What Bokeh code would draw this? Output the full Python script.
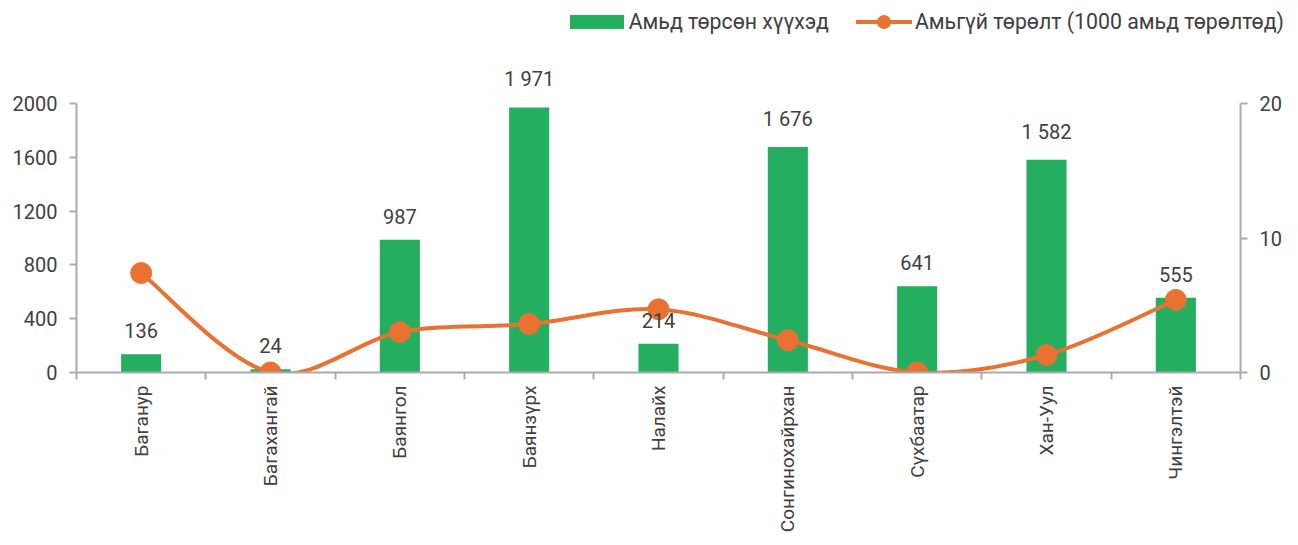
import math
from bokeh.plotting import figure
from bokeh.layouts import column
from bokeh.models import (Range1d, LinearAxis, FixedTicker, ColumnDataSource,
                          LabelSet, Div)
from bokeh.core.properties import value
from bokeh.embed import file_html
from bokeh.resources import INLINE

categories = ["Баганур", "Багахангай", "Баянгол", "Баянзүрх", "Налайх",
              "Сонгинохайрхан", "Сүхбаатар", "Хан-Уул", "Чингэлтэй"]
births = [136, 24, 987, 1971, 214, 1676, 641, 1582, 555]
stillbirth = [7.4, 0.0, 3.0, 3.6, 4.7, 2.4, 0.0, 1.3, 5.4]
left_ticks = [0, 400, 800, 1200, 1600, 2000]
right_ticks = [0, 10, 20]
series_names = ["Амьд төрсөн хүүхэд", "Амьгүй төрөлт (1000 амьд төрөлтөд)"]

GREEN = "#24AE5F"
ORANGE = "#E97132"
TEXT = "#404040"
AXIS = "#ABABAB"
FONT = "Roboto"
FS = "20px"

n = len(categories)
xs = list(range(n))

# ---------------- legend (HTML strip above the chart) ----------------
bar_swatch = (f'<span style="display:inline-block;width:54px;height:14px;'
              f'background:{GREEN};margin-right:5px;"></span>')
line_swatch = (f'<svg width="56" height="16" style="margin-right:3px;">'
               f'<line x1="0" y1="8" x2="56" y2="8" stroke="{ORANGE}" stroke-width="4"/>'
               f'<circle cx="28" cy="8" r="7" fill="{ORANGE}"/></svg>')
legend_html = (
    f'<div style="display:flex;justify-content:flex-end;align-items:center;'
    f'width:1284px;height:44px;font-family:{FONT};font-size:21.3px;color:{TEXT};'
    f'white-space:nowrap;">'
    f'<span style="display:flex;align-items:center;margin-right:27px;">'
    f'{bar_swatch}<span>{series_names[0]}</span></span>'
    f'<span style="display:flex;align-items:center;">'
    f'{line_swatch}<span>{series_names[1]}</span></span></div>')
legend_div = Div(text=legend_html, width=1298, height=44, margin=(0, 0, 0, 0))

# ---------------- main chart ----------------
p = figure(width=1298, height=491, output_backend="svg", toolbar_location=None,
           x_range=Range1d(-0.5, n - 0.5), y_range=Range1d(0, 2439),
           min_border_left=76, min_border_right=58, min_border_top=0,
           min_border_bottom=5, margin=(0, 0, 0, 0))
p.outline_line_color = None
p.grid.grid_line_color = None
p.background_fill_color = "white"
p.border_fill_color = "white"

p.extra_y_ranges = {"right": Range1d(0, 24.39)}

src = ColumnDataSource(dict(x=xs, y=births,
                            lab=[f"{v:,}".replace(",", " ") for v in births]))
p.vbar(x="x", top="y", width=0.31, source=src, fill_color=GREEN,
       line_color=None)

labels = LabelSet(x="x", y="y", text="lab", source=src, text_align="center",
                  text_baseline="bottom", y_offset=16, text_font=value(FONT),
                  text_font_size=FS, text_color=TEXT)
p.add_layout(labels)

# smooth line (Catmull-Rom -> cubic Bezier, from the data points)
pts = list(zip(xs, stillbirth))
x0, y0, x1, y1, cx0, cy0, cx1, cy1 = [], [], [], [], [], [], [], []
for i in range(n - 1):
    pm = pts[i - 1] if i > 0 else pts[i]
    pa = pts[i]
    pb = pts[i + 1]
    pn = pts[i + 2] if i + 2 < n else pts[i + 1]
    x0.append(pa[0]); y0.append(pa[1])
    x1.append(pb[0]); y1.append(pb[1])
    cx0.append(pa[0] + (pb[0] - pm[0]) / 6); cy0.append(pa[1] + (pb[1] - pm[1]) / 6)
    cx1.append(pb[0] - (pn[0] - pa[0]) / 6); cy1.append(pb[1] - (pn[1] - pa[1]) / 6)
bsrc = ColumnDataSource(dict(x0=x0, y0=y0, x1=x1, y1=y1, cx0=cx0, cy0=cy0,
                             cx1=cx1, cy1=cy1))
p.bezier(x0="x0", y0="y0", x1="x1", y1="y1", cx0="cx0", cy0="cy0",
         cx1="cx1", cy1="cy1", source=bsrc, line_color=ORANGE, line_width=4,
         y_range_name="right")
lsrc = ColumnDataSource(dict(x=xs, y=stillbirth))
p.scatter(x="x", y="y", source=lsrc, size=21, fill_color=ORANGE,
          line_color=ORANGE, y_range_name="right")

# axes
xa = p.xaxis[0]
xa.ticker = FixedTicker(ticks=xs, minor_ticks=[i - 0.5 for i in range(n + 1)])
xa.major_label_overrides = {i: c for i, c in enumerate(categories)}
xa.major_label_orientation = math.pi / 2
xa.major_tick_line_color = None
xa.minor_tick_in = 0
xa.minor_tick_out = 7
xa.minor_tick_line_color = AXIS
xa.minor_tick_line_width = 2
xa.axis_line_color = AXIS
xa.axis_line_width = 2
xa.major_label_text_font = FONT
xa.major_label_text_font_size = "19px"
xa.major_label_text_color = TEXT
xa.major_label_standoff = 6

ya = p.yaxis[0]
ya.ticker = FixedTicker(ticks=left_ticks)
ya.bounds = (left_ticks[0], left_ticks[-1])
ya.minor_tick_line_color = None
ya.major_tick_in = 0
ya.major_tick_out = 7
ya.major_tick_line_color = AXIS
ya.major_tick_line_width = 2
ya.axis_line_color = AXIS
ya.axis_line_width = 2
ya.major_label_text_font = FONT
ya.major_label_text_font_size = FS
ya.major_label_text_color = TEXT
ya.major_label_standoff = 12

ra = LinearAxis(y_range_name="right", ticker=FixedTicker(ticks=right_ticks),
                bounds=(right_ticks[0], right_ticks[-1]))
ra.minor_tick_line_color = None
ra.major_tick_in = 0
ra.major_tick_out = 7
ra.major_tick_line_color = AXIS
ra.major_tick_line_width = 2
ra.axis_line_color = AXIS
ra.axis_line_width = 2
ra.major_label_text_font = FONT
ra.major_label_text_font_size = FS
ra.major_label_text_color = TEXT
ra.major_label_standoff = 12
p.add_layout(ra, "right")

layout = column(legend_div, p, spacing=0)
open("out.html", "w").write(file_html(layout, INLINE))
